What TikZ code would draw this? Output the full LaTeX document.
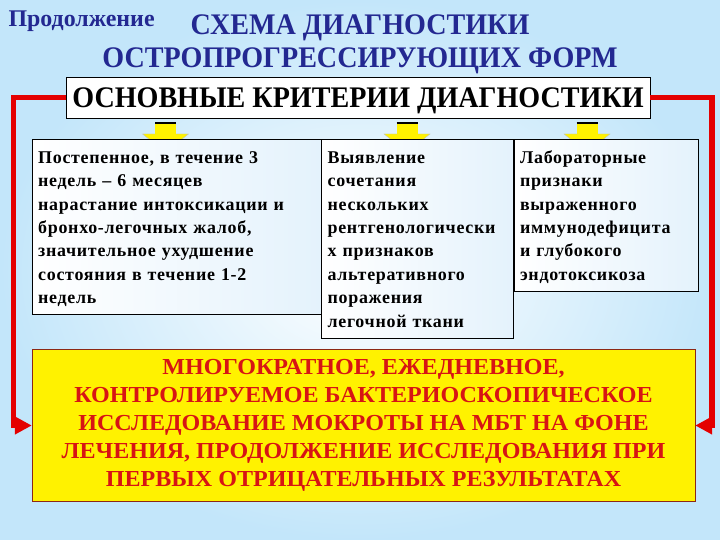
\documentclass[tikz,border=0pt]{standalone}
\usepackage{fontspec}
\setmainfont{Liberation Serif}
\newfontfamily\narrowserif[FakeStretch=0.94]{Liberation Serif}
\newfontfamily\wideserif[LetterSpace=4]{Liberation Serif}
\newfontfamily\broadserif[FakeStretch=1.05]{Liberation Serif}
\usetikzlibrary{arrows.meta,positioning}
\definecolor{navy}{RGB}{35,40,145}
\definecolor{bgblue}{RGB}{195,230,250}
\definecolor{linered}{RGB}{228,0,0}
\definecolor{textred}{RGB}{215,20,20}
\definecolor{boxbrown}{RGB}{140,40,20}
\definecolor{boxtint}{RGB}{228,242,252}

\begin{document}
\begin{tikzpicture}[x=1bp,y=-1bp]
  \tikzstyle{every node}=[font=\bfseries]
  \tikzstyle{critbox}=[draw,thin,left color=white,right color=boxtint,anchor=north west,
    align=left,inner xsep=6bp,inner ysep=4bp,
    font=\wideserif\bfseries\fontsize{18}{23.5}\selectfont,
    execute at begin node={\rule{0pt}{20bp}},execute at end node={\rule[-7bp]{0pt}{7bp}}]
  \tikzstyle{redline}=[linered,line width=5.5bp,-{Triangle[length=17bp,width=17bp]}]
  %% background
  \shade[inner color=white,outer color=bgblue] (0,0) rectangle (720,540);
  \useasboundingbox (0,0) rectangle (720,540);
  %% header
  \node[navy,anchor=base west,font=\bfseries\fontsize{24}{24}\selectfont] (cont) at (5,27) {Продолжение};
  \node[navy,anchor=base,font=\narrowserif\bfseries\fontsize{30}{30}\selectfont] (title) at (360,35) {СХЕМА ДИАГНОСТИКИ};
  \node[navy,anchor=base,font=\narrowserif\bfseries\fontsize{30}{30}\selectfont] (subtitle) at (360,68) {ОСТРОПРОГРЕССИРУЮЩИХ ФОРМ};
  %% yellow arrows (drawn first, boxes cover the tips)
  \foreach \c in {165.5,407,587}{
    \filldraw[fill=yellow,draw=gray!50] (\c-23,134) -- (\c+23,134) -- (\c,152) -- cycle;
    \fill[yellow] (\c-10.5,123) rectangle (\c+10.5,135);
    \draw[line width=2.5bp] (\c-10.5,123) -- (\c+10.5,123);
  }
  %% main criteria
  \node[draw,thin,fill=white,minimum width=584bp,minimum height=41bp,text height=20bp,text depth=0pt,
    font=\narrowserif\bfseries\fontsize{30}{30}\selectfont] (crit) at (358,97.5) {ОСНОВНЫЕ КРИТЕРИИ ДИАГНОСТИКИ};
  %% three criteria boxes
  \node[critbox,text width=277bp] (gradual) at (32,139) {Постепенное, в течение 3\\недель – 6 месяцев\\нарастание интоксикации и\\бронхо-легочных жалоб,\\значительное ухудшение\\состояния в течение 1-2\\недель};
  \node[critbox,text width=180bp] (xray) at (gradual.north east) {Выявление\\сочетания\\нескольких\\рентгенологически\\х признаков\\альтеративного\\поражения\\легочной ткани};
  \node[critbox,text width=172bp] (lab) at (xray.north east) {Лабораторные\\признаки\\выраженного\\иммунодефицита\\и глубокого\\эндотоксикоза};
  %% sputum examination
  \node[draw=boxbrown,fill=yellow,minimum width=663bp,minimum height=152bp,text=textred,align=center,
    font=\broadserif\bfseries\fontsize{23}{28}\selectfont] (sputum) at (363.5,425.5)
    {МНОГОКРАТНОЕ, ЕЖЕДНЕВНОЕ,\\КОНТРОЛИРУЕМОЕ БАКТЕРИОСКОПИЧЕСКОЕ\\ИССЛЕДОВАНИЕ МОКРОТЫ НА МБТ НА ФОНЕ\\ЛЕЧЕНИЯ, ПРОДОЛЖЕНИЕ ИССЛЕДОВАНИЯ ПРИ\\ПЕРВЫХ ОТРИЦАТЕЛЬНЫХ РЕЗУЛЬТАТАХ};
  %% red connectors
  \coordinate (lcorner) at (13.5,425.5);
  \coordinate (rcorner) at (712,425.5);
  \draw[redline] (crit.west) -| (lcorner) -- (sputum.west);
  \draw[redline] (crit.east) -| (rcorner) -- (sputum.east);
\end{tikzpicture}
\end{document}
